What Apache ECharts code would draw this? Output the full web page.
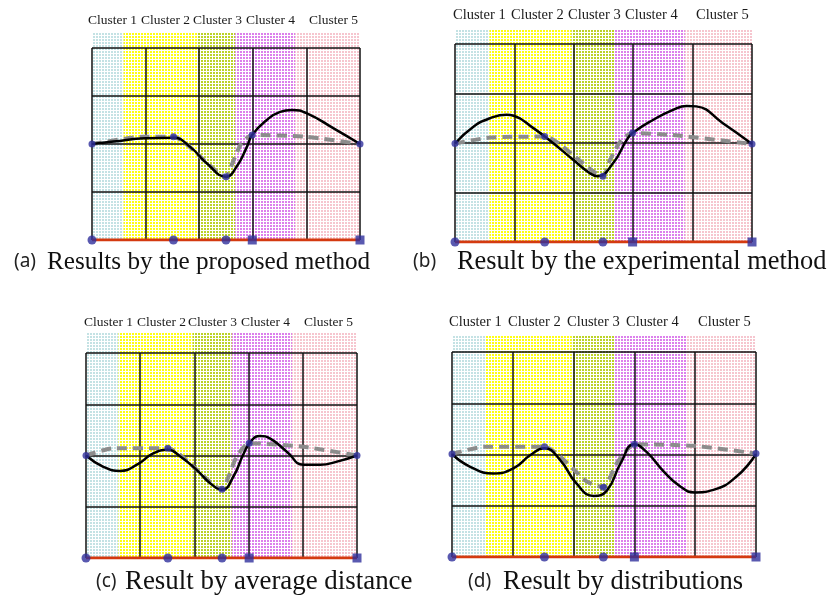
<!DOCTYPE html>
<html><head><meta charset="utf-8">
<script src="https://cdn.jsdelivr.net/npm/echarts@6/dist/echarts.min.js"></script>
<style>html,body{margin:0;padding:0;background:#fff}#c{width:831px;height:598px}</style>
</head><body><div id="c"></div>
<script>
// ---------- data ----------
const clusterLabels = ['Cluster 1', 'Cluster 2', 'Cluster 3', 'Cluster 4', 'Cluster 5'];
const captionTags = ['(a)', '(b)', '(c)', '(d)'];
const captionTexts = ['Results by the proposed method', 'Result by the experimental method',
                      'Result by average distance', 'Result by distributions'];

// cluster band boundaries (x in grid units, 0..5)
const bandEdgesA = [0, 0.59, 1.96, 2.67, 3.79, 5];
const bandEdgesB = [0, 0.58, 1.96, 2.69, 3.87, 5];
const bandEdgesC = [0, 0.60, 1.97, 2.69, 3.80, 5];
const bandEdgesD = [0, 0.55, 1.97, 2.67, 3.85, 5];

// marker x positions (blue points)
const markerXA = [0, 1.52, 2.50, 2.99, 5];
const markerXB = [0, 1.51, 2.49, 2.99, 5];
const markerXC = [0, 1.51, 2.51, 3.01, 5];
const markerXD = [0, 1.52, 2.49, 3.00, 5];
// marker y values on the dashed line
const markerYA = [2.00, 2.15, 1.32, 2.19, 2.00];
const markerYB = [1.99, 2.13, 1.33, 2.20, 1.98];
const markerYC = [2.00, 2.14, 1.34, 2.24, 2.00];
const markerYD = [2.01, 2.15, 1.36, 2.20, 2.02];

// gray dashed reference line
const dashedA = [[0,2.00],[0.96,2.15],[1.52,2.15],[2.50,1.32],[2.62,1.60],[2.78,2.00],[2.99,2.19],[4.00,2.15],[5,2.00]];
const dashedB = [[0,1.99],[0.59,2.11],[1.51,2.13],[2.49,1.33],[2.61,1.66],[2.80,2.06],[2.99,2.20],[3.67,2.16],[5,1.98]];
const dashedC = [[0,2.00],[0.50,2.14],[1.51,2.14],[2.51,1.34],[2.63,1.59],[2.78,1.98],[3.01,2.24],[4.01,2.17],[5,2.00]];
const dashedD = [[0,2.01],[0.52,2.15],[1.52,2.15],[2.22,1.47],[2.49,1.36],[2.71,1.83],[3.00,2.20],[3.97,2.17],[5,2.02]];

// black result curves
const curveA = [[0,2.00],[0.40,2.05],[1.00,2.12],[1.52,2.13],[1.83,1.94],[2.14,1.60],[2.50,1.32],[2.70,1.53],[2.89,1.94],[2.99,2.19],[3.26,2.50],[3.51,2.67],[3.73,2.71],[4.01,2.64],[4.50,2.33],[5,2.00]];
const curveB = [[0,1.99],[0.31,2.33],[0.59,2.50],[0.87,2.57],[0.99,2.55],[1.32,2.30],[1.65,2.00],[1.99,1.66],[2.27,1.39],[2.40,1.33],[2.66,1.59],[2.89,2.06],[2.99,2.20],[3.34,2.47],[3.67,2.67],[3.90,2.75],[4.06,2.74],[4.51,2.40],[5,1.98]];
const curveC = [[0,2.00],[0.32,1.78],[0.63,1.70],[0.94,1.82],[1.24,2.04],[1.51,2.11],[1.74,1.98],[2.04,1.72],[2.29,1.46],[2.51,1.33],[2.72,1.59],[2.91,2.04],[3.06,2.30],[3.21,2.38],[3.40,2.33],[3.71,2.07],[4.01,1.82],[4.32,1.82],[4.63,1.88],[5,2.00]];
const curveD = [[0,2.01],[0.30,1.76],[0.68,1.63],[1.01,1.73],[1.29,1.99],[1.52,2.12],[1.78,1.89],[2.05,1.43],[2.33,1.19],[2.55,1.30],[2.77,1.82],[3.00,2.20],[3.20,2.05],[3.48,1.67],[3.75,1.38],[3.99,1.26],[4.30,1.31],[4.68,1.57],[5,2.01]];

// ---------- layout / style ----------
const panels = [
  {grid:{left:92, top:48, width:268, height:192}, ext:15, edges:bandEdgesA, mx:markerXA, my:markerYA, dashed:dashedA, curve:curveA,
   labX:[88,141,193,246,309], labY:20.5, labSize:13.5, tagX:14, capX:47, capY:262, capSize:25.2},
  {grid:{left:455, top:44, width:297, height:198}, ext:14, edges:bandEdgesB, mx:markerXB, my:markerYB, dashed:dashedB, curve:curveB,
   labX:[453,511,568,625,696], labY:15, labSize:14.5, tagX:413, capX:457, capY:262, capSize:26.4},
  {grid:{left:86, top:353, width:271, height:205}, ext:21, edges:bandEdgesC, mx:markerXC, my:markerYC, dashed:dashedC, curve:curveC,
   labX:[84,137,188,241,304], labY:322, labSize:13.5, tagX:96, capX:125, capY:582, capSize:26.9},
  {grid:{left:452, top:352, width:304, height:205}, ext:17, edges:bandEdgesD, mx:markerXD, my:markerYD, dashed:dashedD, curve:curveD,
   labX:[449,508,567,626,698], labY:322.5, labSize:14.5, tagX:468, capX:503, capY:582, capSize:26.5}
];
// dot colours of the dotted band textures
const bandDotColors = ['#c4e2e4', '#ffff14', '#bcd228', '#dc80ec', '#f6c6cf'];
const blue = '#2f2f9c';

function makePattern(color) {
  const cv = document.createElement('canvas');
  cv.width = 3; cv.height = 3;
  const ctx = cv.getContext('2d');
  ctx.fillStyle = '#ffffff'; ctx.fillRect(0, 0, 3, 3);
  ctx.fillStyle = color; ctx.fillRect(0, 0, 2, 2);
  return {image: cv, repeat: 'repeat'};
}
const bandFills = bandDotColors.map(makePattern);

const grids = [], xAxes = [], yAxes = [], series = [], graphics = [];
panels.forEach((p, i) => {
  grids.push(Object.assign({containLabel:false}, p.grid));
  const axCommon = {gridIndex:i, type:'value', axisLine:{show:false}, axisTick:{show:false}, axisLabel:{show:false},
                    splitLine:{show:true, showMinLine:true, showMaxLine:true, lineStyle:{color:'#111', width:1.5}}};
  xAxes.push(Object.assign({min:0, max:5, interval:1}, axCommon));
  yAxes.push(Object.assign({min:0, max:4, interval:1}, axCommon));
  const bandData = [];
  for (let k = 0; k < p.edges.length - 1; k++) bandData.push([p.edges[k], p.edges[k+1], k]);
  const ext = p.ext;
  series.push({
    type:'custom', xAxisIndex:i, yAxisIndex:i, z:-1, silent:true, clip:false,
    encode:{x:[0,1]}, data:bandData,
    renderItem:function(params, api){
      const p0 = api.coord([api.value(0), 4]);
      const p1 = api.coord([api.value(1), 0]);
      return {type:'rect', shape:{x:p0[0], y:p0[1]-ext, width:p1[0]-p0[0], height:p1[1]-p0[1]+ext},
              style:{fill:bandFills[api.value(2)]}};
    }
  });
  series.push({type:'line', xAxisIndex:i, yAxisIndex:i, z:3, symbol:'none', silent:true,
    data:[[p.mx[0],0],[p.mx[p.mx.length-1],0]], lineStyle:{color:'#d43a10', width:3}});
  series.push({type:'line', xAxisIndex:i, yAxisIndex:i, z:3, symbol:'none', silent:true, smooth:0.2,
    data:p.dashed, lineStyle:{color:'#8c8c8c', width:4, type:[10,6]}});
  series.push({type:'line', xAxisIndex:i, yAxisIndex:i, z:4, symbol:'none', silent:true, smooth:true,
    data:p.curve, lineStyle:{color:'#000', width:2.5}});
  series.push({type:'scatter', xAxisIndex:i, yAxisIndex:i, z:5, silent:true, symbolSize:7,
    data:p.mx.map((x, j) => [x, p.my[j]]), itemStyle:{color:blue}});
  series.push({type:'scatter', xAxisIndex:i, yAxisIndex:i, z:6, silent:true, symbolSize:9,
    data:p.mx.map((x, j) => ({value:[x, 0], symbol: j >= 3 ? 'rect' : 'circle'})), itemStyle:{color:blue}});

  clusterLabels.forEach((t, j) => {
    graphics.push({type:'text', x:p.labX[j], y:p.labY, silent:true,
      style:{text:t, fill:'#1a1a1a', font:p.labSize + 'px "Liberation Serif"', align:'left', verticalAlign:'middle'}});
  });
  graphics.push({type:'text', x:p.tagX, y:p.capY, silent:true,
    style:{text:captionTags[i], fill:'#222', font:'19px "Noto Sans"', align:'left', verticalAlign:'middle'}});
  graphics.push({type:'text', x:p.capX, y:p.capY, silent:true,
    style:{text:captionTexts[i], fill:'#111', font:p.capSize + 'px "Liberation Serif"', align:'left', verticalAlign:'middle'}});
});

const chart = echarts.init(document.getElementById('c'), null, {renderer:'canvas'});
chart.setOption({
  animation:false,
  backgroundColor:'#fff',
  grid:grids, xAxis:xAxes, yAxis:yAxes, series:series, graphic:graphics
});
</script></body></html>
